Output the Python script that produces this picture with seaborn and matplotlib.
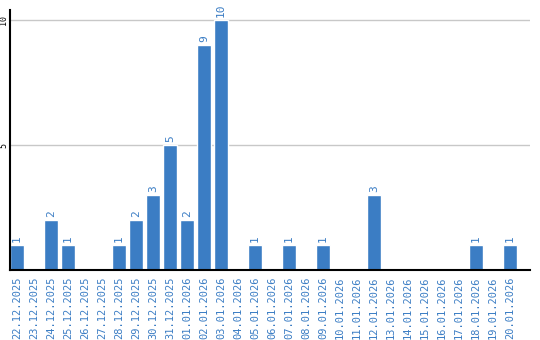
import matplotlib
matplotlib.use("Agg")
import matplotlib.pyplot as plt
import seaborn as sns
import pandas as pd

dates = ["22.12.2025", "23.12.2025", "24.12.2025", "25.12.2025", "26.12.2025",
         "27.12.2025", "28.12.2025", "29.12.2025", "30.12.2025", "31.12.2025",
         "01.01.2026", "02.01.2026", "03.01.2026", "04.01.2026", "05.01.2026",
         "06.01.2026", "07.01.2026", "08.01.2026", "09.01.2026", "10.01.2026",
         "11.01.2026", "12.01.2026", "13.01.2026", "14.01.2026", "15.01.2026",
         "16.01.2026", "17.01.2026", "18.01.2026", "19.01.2026", "20.01.2026"]
counts = [1, 0, 2, 1, 0, 0, 1, 2, 3, 5, 2, 9, 10, 0, 1, 0, 1, 0, 1, 0,
          0, 3, 0, 0, 0, 0, 0, 1, 0, 1]
yticks = [5, 10]

df = pd.DataFrame({"date": dates, "count": counts})
blue = "#3b7dc4"

sns.set_style("white")
plt.rcParams["font.family"] = ["DejaVu Sans Mono", "DejaVu Sans"]
fig = plt.figure(figsize=(5.4, 3.4), dpi=100)
ax = fig.add_axes([10/540, 1-270/340, 520/540, 260/340])

w = 14/17
sns.barplot(data=df, x="date", y="count", color=blue, width=w, saturation=1, ax=ax, zorder=3)
ax.set_xlim(-w/2, -w/2 + 520/17)
ax.set_ylim(0, 10.4)
ax.set_yticks(yticks)
ax.set_yticklabels([str(v) for v in yticks], rotation=90, va="center", ha="right",
                   fontsize=6, color="black")
ax.tick_params(axis="y", length=0, pad=1.5)
ax.tick_params(axis="x", length=0, pad=5)
ax.set_xticks(range(len(dates)))
ax.set_xticklabels(dates, rotation=90, fontsize=7.5, color=blue, va="top", ha="center")
ax.grid(axis="y", color="#c8c8c8", linewidth=1, zorder=0)
ax.set_xlabel("")
ax.set_ylabel("")
for s in ["top", "right"]:
    ax.spines[s].set_visible(False)
for s in ["left", "bottom"]:
    ax.spines[s].set_color("black")
    ax.spines[s].set_linewidth(1.5)
    ax.spines[s].set_zorder(4)

for i, v in enumerate(counts):
    if v > 0:
        ax.annotate(str(v), (i, v), xytext=(0, 2), textcoords="offset points",
                    rotation=90, ha="center", va="bottom", fontsize=8, color=blue)

fig.savefig("out.png", dpi=100)
